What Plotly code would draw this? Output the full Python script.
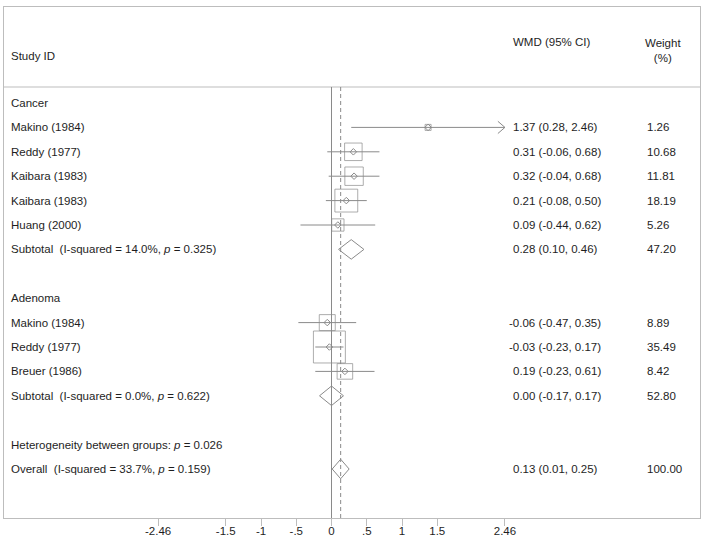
import numpy as np
import plotly.graph_objects as go

# ---------------- data ----------------
group_labels = ["Cancer", "Adenoma"]

study_names = ["Makino (1984)", "Reddy (1977)", "Kaibara (1983)", "Kaibara (1983)", "Huang (2000)",
               "Makino (1984)", "Reddy (1977)", "Breuer (1986)"]
study_group = [0, 0, 0, 0, 0, 1, 1, 1]
study_wmd = [1.37, 0.31, 0.32, 0.21, 0.09, -0.06, -0.03, 0.19]
study_lo = [0.28, -0.06, -0.04, -0.08, -0.44, -0.47, -0.23, -0.23]
study_hi = [2.46, 0.68, 0.68, 0.50, 0.62, 0.35, 0.17, 0.61]
study_weight = [1.26, 10.68, 11.81, 18.19, 5.26, 8.89, 35.49, 8.42]

subtotal_labels = ["Subtotal\u00a0 (I-squared = 14.0%, <i>p</i> = 0.325)",
                   "Subtotal\u00a0 (I-squared = 0.0%, <i>p</i> = 0.622)"]
subtotal_wmd = [0.28, 0.00]
subtotal_lo = [0.10, -0.17]
subtotal_hi = [0.46, 0.17]
subtotal_weight = [47.20, 52.80]

heterogeneity_label = "Heterogeneity between groups: <i>p</i> = 0.026"
overall_label = "Overall\u00a0 (I-squared = 33.7%, <i>p</i> = 0.159)"
overall_wmd = [0.13]
overall_lo = [0.01]
overall_hi = [0.25]
overall_weight = [100.00]

tick_vals = [-2.46, -1.5, -1, -0.5, 0, 0.5, 1, 1.5, 2.46]
tick_text = ["-2.46", "-1.5", "-1", "-.5", "0", ".5", "1", "1.5", "2.46"]
x_clip = 2.46

header_study = "Study ID"
header_effect = "WMD (95% CI)"
header_weight = "Weight<br>(%)"

# ---------------- layout geometry ----------------
W, H = 701, 546
ML, MR, MT, MB = 4, 1, 7, 28
X0_PX, PX_PER_UNIT = 331.5, 70.5          # pixel of x=0, pixels per unit
ROW1_PX, PX_PER_ROW = 103.0, 24.4         # pixel of row 1, pixels per row


def px2x(px):
    return (px - X0_PX) / PX_PER_UNIT


def px2row(py):
    return 1 + (py - ROW1_PX) / PX_PER_ROW


x_range = [px2x(ML), px2x(W - MR)]
y_range = [px2row(H - MB), px2row(MT)]

LINE = "#8a8a8a"
FRAME = "#bdbdbd"
TEXT = "#1e1e1e"
FONT = "Liberation Sans, Arial, sans-serif"
FS = 11.5

# ---------------- build rows ----------------
r = 1
study_rows, subtotal_rows, label_rows = [], [], []
for g, gl in enumerate(group_labels):
    label_rows.append((r, gl)); r += 1
    for i, sg in enumerate(study_group):
        if sg == g:
            study_rows.append((r, i)); r += 1
    subtotal_rows.append((r, g)); r += 1
    r += 1
het_row = r; r += 1
overall_row = r

fig = go.Figure()

# CI lines
cx, cy = [], []
for rr, i in study_rows:
    cx += [study_lo[i], min(study_hi[i], x_clip), None]
    cy += [rr, rr, None]
fig.add_trace(go.Scatter(x=cx, y=cy, mode="lines", line=dict(color=LINE, width=1),
                         hoverinfo="skip", showlegend=False))

# arrows for clipped CIs
ax, ay = [], []
for rr, i in study_rows:
    if study_hi[i] >= x_clip:
        ax += [x_clip - 0.1, x_clip, x_clip - 0.1, None]
        ay += [rr - 0.25, rr, rr + 0.25, None]
if ax:
    fig.add_trace(go.Scatter(x=ax, y=ay, mode="lines", line=dict(color=LINE, width=1),
                             hoverinfo="skip", showlegend=False))

# weight boxes
fig.add_trace(go.Scatter(
    x=[study_wmd[i] for _, i in study_rows],
    y=[rr for rr, _ in study_rows],
    mode="markers",
    marker=dict(symbol="square-open", color=LINE,
                size=[5.36 * np.sqrt(study_weight[i]) for _, i in study_rows],
                line=dict(width=1, color=LINE)),
    hoverinfo="skip", showlegend=False))

# point estimates
fig.add_trace(go.Scatter(
    x=[study_wmd[i] for _, i in study_rows],
    y=[rr for rr, _ in study_rows],
    mode="markers",
    marker=dict(symbol="diamond-open", color=LINE, size=5, line=dict(width=1, color=LINE)),
    hoverinfo="skip", showlegend=False))

# diamonds
dx, dy = [], []
for rr, g in subtotal_rows:
    dx += [subtotal_lo[g], subtotal_wmd[g], subtotal_hi[g], subtotal_wmd[g], subtotal_lo[g], None]
    dy += [rr, rr - 0.4, rr, rr + 0.4, rr, None]
dx += [overall_lo[0], overall_wmd[0], overall_hi[0], overall_wmd[0], overall_lo[0], None]
dy += [overall_row, overall_row - 0.4, overall_row, overall_row + 0.4, overall_row, None]
fig.add_trace(go.Scatter(x=dx, y=dy, mode="lines", line=dict(color=LINE, width=1),
                         hoverinfo="skip", showlegend=False))

# reference lines
header_row = px2row(87)
fig.add_shape(type="line", xref="paper", x0=0, x1=1, yref="y", y0=header_row, y1=header_row,
              line=dict(color=FRAME, width=1))
fig.add_shape(type="line", x0=0, x1=0, yref="y", y0=header_row, y1=y_range[0],
              line=dict(color=LINE, width=1))
fig.add_shape(type="line", x0=overall_wmd[0], x1=overall_wmd[0], yref="y", y0=header_row, y1=y_range[0],
              line=dict(color=LINE, width=1, dash="4px,3px"))

# texts
ann = []


def add_text(px, row, text, anchor="left", xshift=0):
    ann.append(dict(x=px2x(px), y=row, xref="x", yref="y", text=text, showarrow=False,
                    xanchor=anchor, yanchor="middle", xshift=xshift,
                    font=dict(family=FONT, size=FS, color=TEXT)))


LEFT_PX, EFF_PX, WT_PX = 9, 511, 645
add_text(LEFT_PX, px2row(56), header_study)
add_text(EFF_PX, px2row(42), header_effect)
add_text(663, px2row(50), header_weight, anchor="center")

for rr, gl in label_rows:
    add_text(LEFT_PX, rr, gl)


def eff_text(e, lo, hi):
    return f"{e:.2f} ({lo:.2f}, {hi:.2f})"


for rr, i in study_rows:
    add_text(LEFT_PX, rr, study_names[i])
    add_text(EFF_PX, rr, eff_text(study_wmd[i], study_lo[i], study_hi[i]),
             xshift=-3.8 if study_wmd[i] < 0 else 0)
    add_text(WT_PX, rr, f"{study_weight[i]:.2f}")
for rr, g in subtotal_rows:
    add_text(LEFT_PX, rr, subtotal_labels[g])
    add_text(EFF_PX, rr, eff_text(subtotal_wmd[g], subtotal_lo[g], subtotal_hi[g]),
             xshift=-3.8 if subtotal_wmd[g] < 0 else 0)
    add_text(WT_PX, rr, f"{subtotal_weight[g]:.2f}")
add_text(LEFT_PX, het_row, heterogeneity_label)
add_text(LEFT_PX, overall_row, overall_label)
add_text(EFF_PX, overall_row, eff_text(overall_wmd[0], overall_lo[0], overall_hi[0]))
add_text(WT_PX, overall_row, f"{overall_weight[0]:.2f}")

fig.update_layout(
    width=W, height=H,
    margin=dict(l=ML, r=MR, t=MT, b=MB, pad=0),
    paper_bgcolor="white", plot_bgcolor="white",
    font=dict(family=FONT, size=FS, color=TEXT),
    annotations=ann,
    showlegend=False,
    xaxis=dict(range=x_range, showgrid=False, zeroline=False, showline=True, mirror=True,
               linecolor=FRAME, linewidth=1, ticks="outside", ticklen=7, tickcolor=FRAME,
               tickvals=tick_vals, ticktext=tick_text, ticklabelstandoff=-5,
               tickfont=dict(family=FONT, size=FS, color=TEXT), fixedrange=True),
    yaxis=dict(range=y_range, showgrid=False, zeroline=False, showline=True, mirror=True,
               linecolor=FRAME, linewidth=1, showticklabels=False, ticks="", fixedrange=True),
)

fig.write_html(
    "out.html",
    config={"displayModeBar": False},
    post_script="document.body.style.margin='0';document.body.style.overflow='hidden';",
)
